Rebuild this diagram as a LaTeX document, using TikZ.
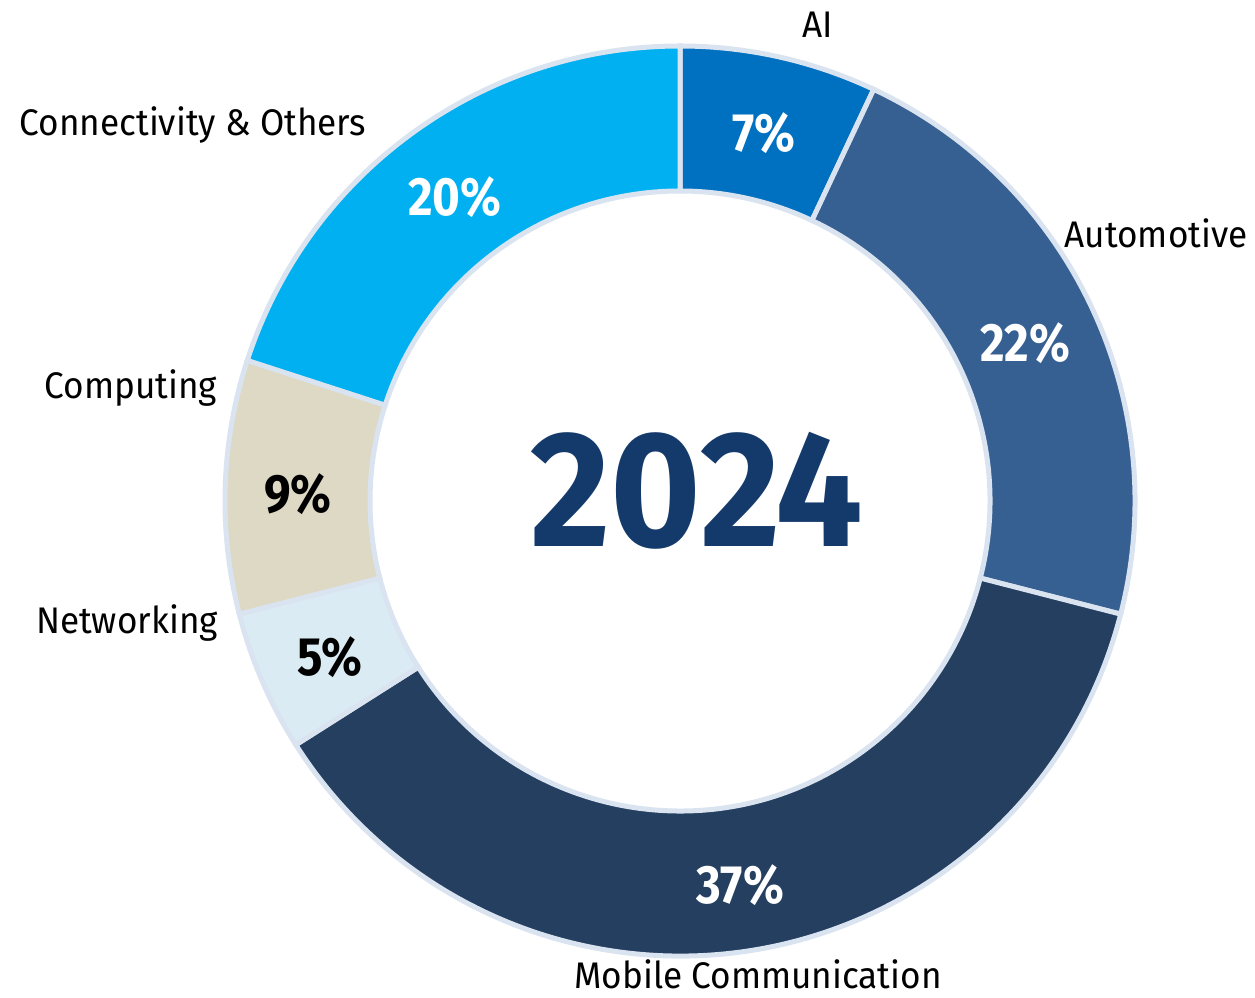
\documentclass[tikz,border=0pt]{standalone}
\usepackage{fontspec}
\setmainfont{Fira Sans}
\definecolor{aiC}{HTML}{0070C0}
\definecolor{autoC}{HTML}{376092}
\definecolor{mobC}{HTML}{253F60}
\definecolor{netC}{HTML}{DAEBF4}
\definecolor{compC}{HTML}{DDD9C4}
\definecolor{connC}{HTML}{00B0F0}
\definecolor{edgeC}{HTML}{DAE3F0}
\definecolor{yearC}{HTML}{143A6B}
\newcommand{\catxt}[1]{\scalebox{0.95}[1]{#1}}
\newcommand{\pctxt}[1]{\scalebox{0.88}[1]{#1}}
\tikzset{
  seg/.style={draw=edgeC, line width=5pt, line join=miter},
  cat/.style={anchor=base, inner sep=0pt, font=\fontsize{37}{44}\selectfont, text=black},
  pct/.style={anchor=base, inner sep=0pt, font=\bfseries\fontsize{54}{60}\selectfont},
  year/.style={anchor=base, inner sep=0pt, font=\bfseries\fontsize{165}{180}\selectfont, text=yearC}
}
\begin{document}
\begin{tikzpicture}[x=1pt,y=1pt]
\useasboundingbox (0,0) rectangle (1255,997);
\begin{scope}[shift={(680,496)}]
\foreach \a/\b/\c in {90/64.8/aiC, 64.8/-14.4/autoC, -14.4/-147.6/mobC, -147.6/-165.6/netC, -165.6/-198/compC, -198/-270/connC}{
  \path[seg, fill=\c] (\a:455) arc[start angle=\a, end angle=\b, radius=455]
    -- (\b:310) arc[start angle=\b, end angle=\a, radius=310] -- cycle;
}
\end{scope}
\node[year] (yr) at (697,450) {\scalebox{0.94}[1]{2024}};
\node[pct, text=white] (p7) at (764,845) {\pctxt{7\%}};
\node[pct, text=white] (p20) at (455,781) {\pctxt{20\%}};
\node[pct, text=white] (p22) at (1025,635) {\pctxt{22\%}};
\node[pct, text=black] (p9) at (298,484) {\pctxt{9\%}};
\node[pct, text=black] (p5) at (330,322) {\pctxt{5\%}};
\node[pct, text=white] (p37) at (740,94) {\pctxt{37\%}};
\node[cat] (lai) at (818,959) {\catxt{AI}};
\node[cat] (lauto) at (1156,749) {\catxt{Automotive}};
\node[cat] (lconn) at (193,861) {\catxt{Connectivity \& Others}};
\node[cat] (lcomp) at (131,598) {\catxt{Computing}};
\node[cat] (lnet) at (127,364) {\catxt{Networking}};
\node[cat] (lmob) at (758,9) {\catxt{Mobile Communication}};
\end{tikzpicture}
\end{document}
